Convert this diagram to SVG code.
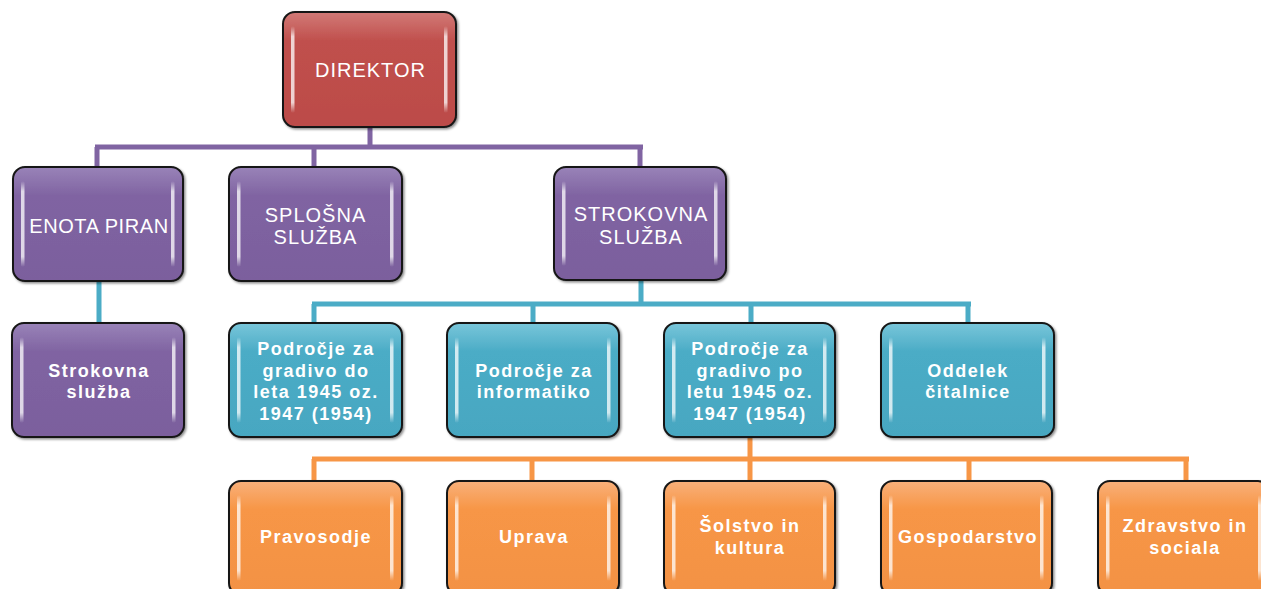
<svg xmlns="http://www.w3.org/2000/svg" width="1261" height="589" viewBox="0 0 1261 589">
<defs>
<linearGradient id="gRed" x1="0" y1="0" x2="0" y2="1"><stop offset="0" stop-color="#D27A77"/><stop offset="0.25" stop-color="#C0504D"/><stop offset="1" stop-color="#BC4B48"/></linearGradient>
<linearGradient id="gPur" x1="0" y1="0" x2="0" y2="1"><stop offset="0" stop-color="#9983B8"/><stop offset="0.25" stop-color="#8064A2"/><stop offset="1" stop-color="#7B5F9D"/></linearGradient>
<linearGradient id="gCya" x1="0" y1="0" x2="0" y2="1"><stop offset="0" stop-color="#79C6DA"/><stop offset="0.25" stop-color="#4BACC6"/><stop offset="1" stop-color="#47A7C1"/></linearGradient>
<linearGradient id="gOra" x1="0" y1="0" x2="0" y2="1"><stop offset="0" stop-color="#F9B07A"/><stop offset="0.25" stop-color="#F79646"/><stop offset="1" stop-color="#F39244"/></linearGradient>
<linearGradient id="hl" x1="0" y1="0" x2="0" y2="1"><stop offset="0" stop-color="#FFFFFF" stop-opacity="0"/><stop offset="0.12" stop-color="#FFFFFF" stop-opacity="0.75"/><stop offset="0.88" stop-color="#FFFFFF" stop-opacity="0.75"/><stop offset="1" stop-color="#FFFFFF" stop-opacity="0"/></linearGradient>
<filter id="sh" x="-10%" y="-10%" width="120%" height="120%"><feDropShadow dx="1.5" dy="1.5" stdDeviation="1.2" flood-color="#000" flood-opacity="0.45"/></filter>
</defs>
<style>
.box{stroke:#161616;stroke-width:2;filter:url(#sh)}
.red{fill:url(#gRed)}.pur{fill:url(#gPur)}.cya{fill:url(#gCya)}.ora{fill:url(#gOra)}
.hl{fill:url(#hl)}
.t1{font-family:"Liberation Sans",Arial,sans-serif;font-size:20px;fill:#fff;text-anchor:middle;letter-spacing:1px}
.t3{font-family:"Liberation Sans",Arial,sans-serif;font-size:18px;font-weight:bold;fill:#fff;text-anchor:middle;letter-spacing:1.5px}
.cp{fill:none;stroke:#8064A2;stroke-width:5}
.cc{fill:none;stroke:#4BACC6;stroke-width:5}
.co{fill:none;stroke:#F79646;stroke-width:5}
</style>
<g id="connectors">
<path class="cp" d="M370 127V147M95 147H643M97 147V167M314 147V167M640 147V167"/>
<path class="cc" d="M99 281V323M641 280V304M312 304H971M314 304V323M533 304V323M751 304V323M968 304V323"/>
<path class="co" d="M750 437V459M312 459H1189M314 459V481M532 459V481M750 459V481M969 459V481M1186 459V481"/>
</g>
<g id="n-direktor"><rect class="box red" x="283" y="12" width="173" height="115" rx="12"/><rect class="hl" x="291" y="26" width="3.5" height="87" rx="1.75"/><rect class="hl" x="444" y="26" width="3.5" height="87" rx="1.75"/><text class="t1" x="370.5" y="77">DIREKTOR</text></g>
<g id="n-enota"><rect class="box pur" x="13" y="167" width="170" height="114" rx="12"/><rect class="hl" x="21" y="181" width="3.5" height="86" rx="1.75"/><rect class="hl" x="171" y="181" width="3.5" height="86" rx="1.75"/><text class="t1" x="99" y="233" style="letter-spacing:0.6px">ENOTA PIRAN</text></g>
<g id="n-splosna"><rect class="box pur" x="229" y="167" width="173" height="114" rx="12"/><rect class="hl" x="237" y="181" width="3.5" height="86" rx="1.75"/><rect class="hl" x="390" y="181" width="3.5" height="86" rx="1.75"/><text class="t1" x="315.5" y="222">SPLOŠNA</text><text class="t1" x="315.5" y="244">SLUŽBA</text></g>
<g id="n-strokovna"><rect class="box pur" x="554" y="167" width="172" height="113" rx="12"/><rect class="hl" x="562" y="181" width="3.5" height="85" rx="1.75"/><rect class="hl" x="714" y="181" width="3.5" height="85" rx="1.75"/><text class="t1" x="641" y="221">STROKOVNA</text><text class="t1" x="641" y="244">SLUŽBA</text></g>
<g id="n-strokovna-piran"><rect class="box pur" x="12" y="323" width="172" height="114" rx="12"/><rect class="hl" x="20" y="337" width="3.5" height="86" rx="1.75"/><rect class="hl" x="172" y="337" width="3.5" height="86" rx="1.75"/><text class="t3" x="99" y="377">Strokovna</text><text class="t3" x="99" y="398">služba</text></g>
<g id="n-do1945"><rect class="box cya" x="229" y="323" width="173" height="114" rx="12"/><rect class="hl" x="237" y="337" width="3.5" height="86" rx="1.75"/><rect class="hl" x="390" y="337" width="3.5" height="86" rx="1.75"/><text class="t3" x="316" y="355">Področje za</text><text class="t3" x="316" y="377">gradivo do</text><text class="t3" x="316" y="398">leta 1945 oz.</text><text class="t3" x="316" y="420">1947 (1954)</text></g>
<g id="n-informatika"><rect class="box cya" x="447" y="323" width="172" height="114" rx="12"/><rect class="hl" x="455" y="337" width="3.5" height="86" rx="1.75"/><rect class="hl" x="607" y="337" width="3.5" height="86" rx="1.75"/><text class="t3" x="534" y="377">Področje za</text><text class="t3" x="534" y="398">informatiko</text></g>
<g id="n-po1945"><rect class="box cya" x="664" y="323" width="171" height="114" rx="12"/><rect class="hl" x="672" y="337" width="3.5" height="86" rx="1.75"/><rect class="hl" x="823" y="337" width="3.5" height="86" rx="1.75"/><text class="t3" x="750" y="355">Področje za</text><text class="t3" x="750" y="377">gradivo po</text><text class="t3" x="750" y="398">letu 1945 oz.</text><text class="t3" x="750" y="420">1947 (1954)</text></g>
<g id="n-citalnica"><rect class="box cya" x="881" y="323" width="173" height="114" rx="12"/><rect class="hl" x="889" y="337" width="3.5" height="86" rx="1.75"/><rect class="hl" x="1042" y="337" width="3.5" height="86" rx="1.75"/><text class="t3" x="968" y="377">Oddelek</text><text class="t3" x="968" y="398">čitalnice</text></g>
<g id="n-pravosodje"><rect class="box ora" x="229" y="481" width="173" height="114" rx="12"/><rect class="hl" x="237" y="495" width="3.5" height="86" rx="1.75"/><rect class="hl" x="390" y="495" width="3.5" height="86" rx="1.75"/><text class="t3" x="316" y="543">Pravosodje</text></g>
<g id="n-uprava"><rect class="box ora" x="447" y="481" width="172" height="114" rx="12"/><rect class="hl" x="455" y="495" width="3.5" height="86" rx="1.75"/><rect class="hl" x="607" y="495" width="3.5" height="86" rx="1.75"/><text class="t3" x="534" y="543">Uprava</text></g>
<g id="n-solstvo"><rect class="box ora" x="664" y="481" width="171" height="114" rx="12"/><rect class="hl" x="672" y="495" width="3.5" height="86" rx="1.75"/><rect class="hl" x="823" y="495" width="3.5" height="86" rx="1.75"/><text class="t3" x="750" y="532">Šolstvo in</text><text class="t3" x="750" y="554">kultura</text></g>
<g id="n-gospodarstvo"><rect class="box ora" x="881" y="481" width="171" height="114" rx="12"/><rect class="hl" x="889" y="495" width="3.5" height="86" rx="1.75"/><rect class="hl" x="1040" y="495" width="3.5" height="86" rx="1.75"/><text class="t3" x="968" y="543">Gospodarstvo</text></g>
<g id="n-zdravstvo"><rect class="box ora" x="1098" y="481" width="172" height="114" rx="12"/><rect class="hl" x="1106" y="495" width="3.5" height="86" rx="1.75"/><rect class="hl" x="1258" y="495" width="3.5" height="86" rx="1.75"/><text class="t3" x="1185" y="532">Zdravstvo in</text><text class="t3" x="1185" y="554">sociala</text></g>
</svg>
